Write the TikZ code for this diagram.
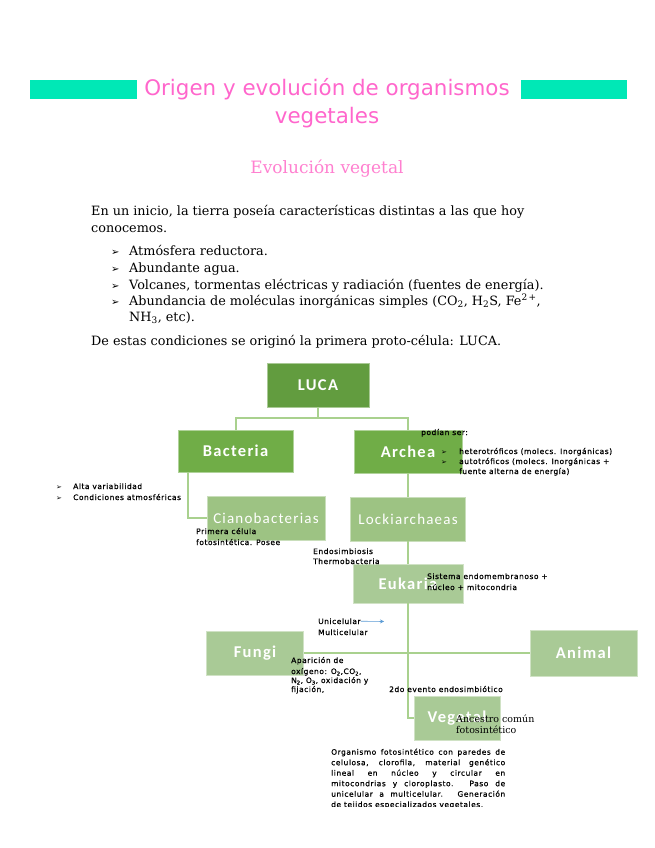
\documentclass[tikz,border=0pt]{standalone}
\usepackage{fontspec}
\setmainfont{DejaVu Serif}
\newfontfamily\titlefont{DejaVu Sans}
\newfontfamily\boxfont{Carlito}[LetterSpace=8]
\newfontfamily\notefont{DejaVu Sans}[LetterSpace=7, FakeBold=0.7]
\newfontfamily\symfont{DejaVu Sans}
\usetikzlibrary{arrows.meta}
\definecolor{mint}{HTML}{00E8B6}
\definecolor{pinkT}{HTML}{FF66CC}
\definecolor{pinkS}{HTML}{FF80D0}
\definecolor{gDark}{HTML}{629C3F}
\definecolor{gMid}{HTML}{70AD47}
\definecolor{gLight}{HTML}{9DC383}
\definecolor{gPale}{HTML}{A9CA96}
\definecolor{gLine}{HTML}{A9D18E}
\definecolor{arrowblue}{HTML}{5B9BD5}
\tikzset{
  box/.style={draw=#1!55!white, fill=#1, line width=0.7pt, inner sep=0pt, text=white,
    font=\boxfont\bfseries\fontsize{16.5}{18}\selectfont},
  boxreg/.style={box=#1, font=\boxfont\fontsize{15}{18}\selectfont},
  conn/.style={draw=gLine, line width=2pt},
  body/.style={anchor=base west, inner sep=0pt, font=\fontsize{12.8}{15}\selectfont},
  bul/.style={anchor=base west, inner sep=0pt, font=\symfont\fontsize{10}{11}\selectfont},
  note/.style={anchor=base west, inner sep=0pt, font=\notefont\fontsize{7.5}{8.5}\selectfont},
  notebul/.style={anchor=base west, inner sep=0pt, font=\symfont\fontsize{7}{8}\selectfont},
  bluearrow/.style={draw=arrowblue, line width=0.6pt, -{Stealth[length=4pt,width=4pt]}},
}
\begin{document}
\begin{tikzpicture}[x=1pt,y=-1pt]
\useasboundingbox[fill=white] (0,0) rectangle (655,848);

% header
\fill[mint] (30,80) rectangle (137,99);
\fill[mint] (521,80) rectangle (627,99);
\node[anchor=base, inner sep=0pt, text=pinkT, font=\titlefont\fontsize{21.4}{25}\selectfont] (title1) at (327,96) {Origen y evolución de organismos};
\node[anchor=base, inner sep=0pt, text=pinkT, font=\titlefont\fontsize{21.4}{25}\selectfont] (title2) at (327,124) {vegetales};
\node[anchor=base, inner sep=0pt, text=pinkS, font=\fontsize{17}{20}\selectfont] (sub) at (327,173) {Evolución vegetal};

% body
\node[body] (l1) at (91,215) {En un inicio, la tierra poseía características distintas a las que hoy};
\node[body] (l2) at (91,232) {conocemos.};
\node[bul] (u1) at (111,255) {➢};
\node[body] (l3) at (129,255) {Atmósfera reductora.};
\node[bul] (u2) at (111,272) {➢};
\node[body] (l4) at (129,272) {Abundante agua.};
\node[bul] (u3) at (111,289) {➢};
\node[body] (l5) at (129,289) {Volcanes, tormentas eléctricas y radiación (fuentes de energía).};
\node[bul] (u4) at (111,305) {➢};
\node[body] (l6) at (129,305) {Abundancia de moléculas inorgánicas simples (CO\textsubscript{2}, H\textsubscript{2}S, Fe\textsuperscript{2\,+},};
\node[body] (l7) at (129,321) {NH\textsubscript{3}, etc).};
\node[body] (l8) at (91,345) {De estas condiciones se originó la primera proto-célula: LUCA.};

% diagram boxes
\node[box=gDark, minimum width=102pt, minimum height=44pt] (luca) at (318,385) {LUCA};
\node[box=gMid, minimum width=115pt, minimum height=42pt] (bact) at (235.5,451) {Bacteria};
\node[box=gMid, minimum width=108pt, minimum height=43pt] (arch) at (408,451.5) {Archea};
\node[boxreg=gLight, minimum width=118pt, minimum height=44pt] (ciano) at (266,518) {Cianobacterias};
\node[boxreg=gLight, minimum width=115pt, minimum height=44pt] (lock) at (408,519) {Lockiarchaeas};
\node[box=gPale, minimum width=110pt, minimum height=39pt] (euk) at (408,583.5) {Eukaria};
\node[box=gPale, minimum width=97pt, minimum height=44pt] (fungi) at (255,653) {Fungi};
\node[box=gPale, minimum width=107pt, minimum height=46pt] (animal) at (583.5,653) {Animal};
\node[box=gPale, minimum width=86pt, minimum height=44pt] (veg) at (457,718) {Vegetal};

% connectors
\draw[conn] (luca.south) -- ++(0,11) -| (bact.north);
\draw[conn] (luca.south) -- ++(0,11) -| (arch.north);
\draw[conn] ([xshift=10pt]bact.south west) |- (ciano.west);
\draw[conn] (arch.south) -- (lock.north);
\draw[conn] (lock.south) -- (euk.north);
\draw[conn] (euk.south) |- (veg.west);
\draw[conn] (fungi.east) -- (animal.west);

% notes
\node[note] (pod) at (421,435) {podían ser:};
\node[notebul] (pb1) at (441,454) {➢};
\node[note] (het) at (459,454) {heterotróficos (molecs. Inorgánicas)};
\node[notebul] (pb2) at (441,464) {➢};
\node[note] (aut) at (459,464) {autotróficos (molecs. Inorgánicas +};
\node[note] (fue) at (459,474) {fuente alterna de energía)};

\node[notebul] (ab1) at (56,489) {➢};
\node[note] (alta) at (73,489) {Alta variabilidad};
\node[notebul] (ab2) at (56,500) {➢};
\node[note] (cond) at (73,500) {Condiciones atmosféricas};

\node[note] (prim1) at (196,534) {Primera célula};
\node[note] (prim2) at (196,545) {fotosintética. Posee};

\node[note] (endo1) at (313,554) {Endosimbiosis};
\node[note] (endo2) at (313,564) {Thermobacteria};

\node[note] (sis1) at (427,579) {Sistema endomembranoso +};
\node[note] (sis2) at (427,590) {núcleo + mitocondria};

\node[note] (uni) at (318,624) {Unicelular};
\node[note] (multi) at (318,635) {Multicelular};
\coordinate (arrowend) at (384,621.5);
\draw[bluearrow] (uni.east) -- (arrowend);

\node[note] (ap1) at (291,663) {Aparición de};
\node[note] (ap2) at (291,674) {oxígeno: O\textsubscript{2},CO\textsubscript{2},};
\node[note] (ap3) at (291,683) {N\textsubscript{2}, O\textsubscript{3}, oxidación y};
\node[note] (ap4) at (291,692) {fijación,};

\node[note] (sdo) at (389,692) {2do evento endosimbiótico};

\node[anchor=base west, inner sep=0pt, font=\fontsize{9.5}{11}\selectfont] (anc1) at (456,722) {Ancestro común};
\node[anchor=base west, inner sep=0pt, font=\fontsize{9.5}{11}\selectfont] (anc2) at (456,733) {fotosintético};

\begin{scope}
\clip (320,742) rectangle (520,806);
\node[anchor=north west, inner sep=0pt, text width=174pt, align=justify,
  font=\notefont\fontsize{7.5}{10.5}\selectfont] (par) at (331,748.5)
  {Organismo fotosintético con paredes de\linebreak
   celulosa, clorofila, material genético\linebreak
   lineal en núcleo y circular en\linebreak
   mitocondrias y cloroplasto. Paso de\linebreak
   unicelular a multicelular. Generación\linebreak
   de tejidos especializados vegetales.};
\end{scope}
\end{tikzpicture}
\end{document}
